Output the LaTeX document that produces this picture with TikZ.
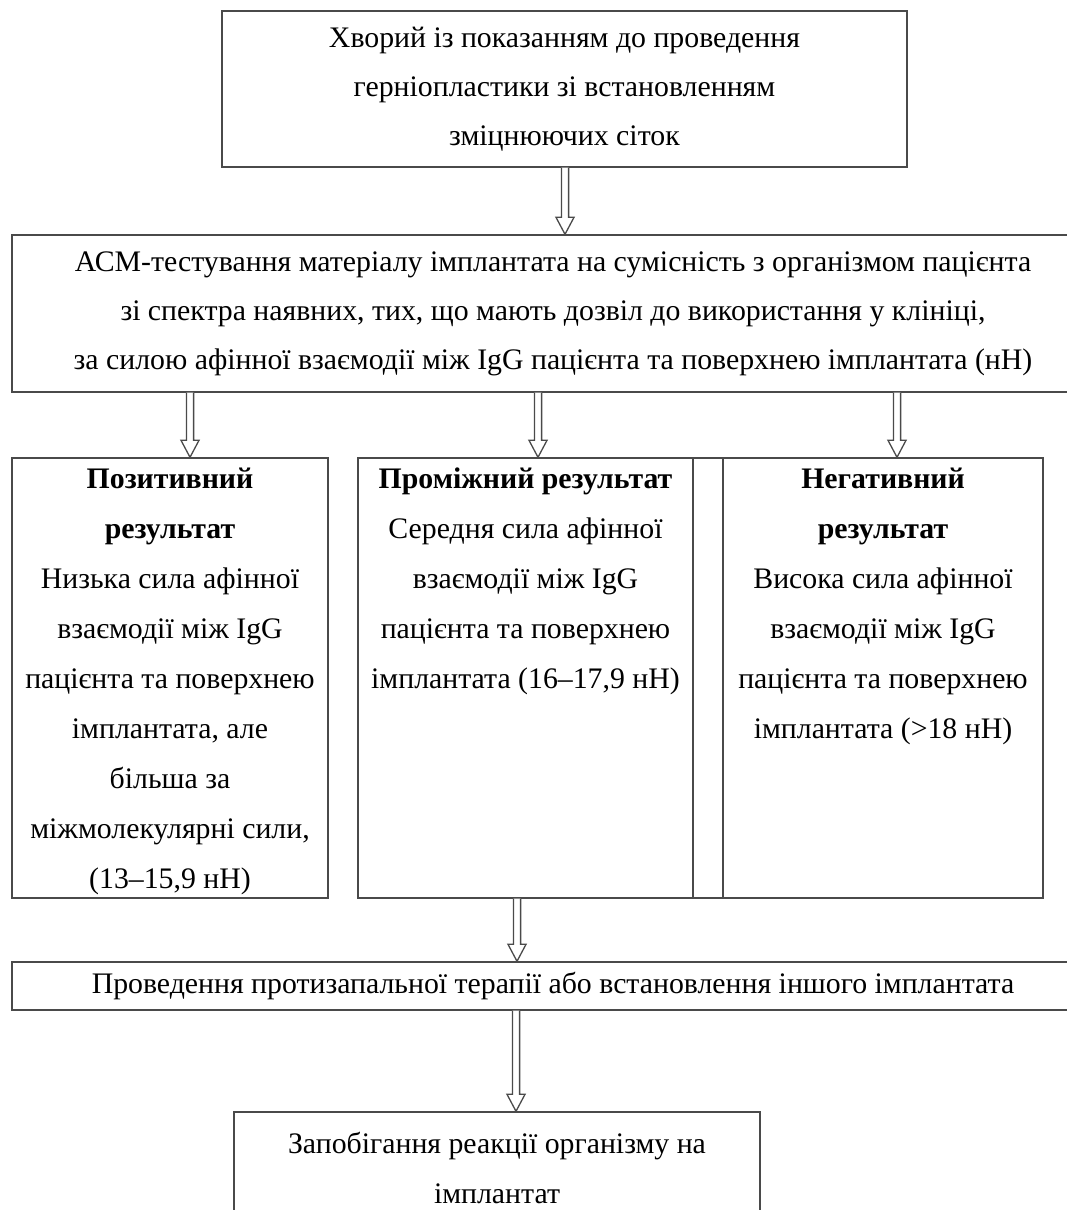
\documentclass[tikz,border=0pt]{standalone}
\usepackage{fontspec}
\setmainfont{Liberation Serif}
\usetikzlibrary{positioning,calc}
\definecolor{lineg}{HTML}{4A4A4A}
\tikzset{
  box/.style={draw=lineg,line width=0.7pt,inner sep=0pt,align=center,font=\fontsize{14.9}{24.5}\selectfont},
  cell/.style={box,minimum height=220pt},
  txt/.style={align=center,inner sep=0pt,font=\fontsize{14.9}{25}\selectfont},
  hollow/.style={draw=lineg,line width=0.65pt,fill=white,line join=miter},
}
% open block arrow from #1 down to #2
\newcommand{\hollowar}[2]{%
  \draw[hollow] let \p1=(#1), \p2=(#2) in
    (\x1-1.8pt,\y1) -- (\x1-1.8pt,\y2+8.5pt) -- (\x1-4.5pt,\y2+8.5pt) -- (\x1,\y2)
    -- (\x1+4.5pt,\y2+8.5pt) -- (\x1+1.8pt,\y2+8.5pt) -- (\x1+1.8pt,\y1);}

\begin{document}
\begin{tikzpicture}[x=0.5pt,y=-0.5pt]
  \useasboundingbox (0,0) rectangle (1066,1210);
  \node[box,minimum width=342.5pt,minimum height=78pt] (patient) at (564.5,89)
    {Хворий із показанням до проведення\\герніопластики зі встановленням\\зміцнюючих сіток};
  \node[box,minimum width=541pt,minimum height=78.5pt] (test) at (553,313.5)
    {АСМ-тестування матеріалу імплантата на сумісність з організмом пацієнта\\
     зі спектра наявних, тих, що мають дозвіл до використання у клініці,\\
     за силою афінної взаємодії між IgG пацієнта та поверхнею імплантата (нН)};
  % results
  \node[cell,minimum width=158pt] (pos) at (170,678) {};
  \node[cell,minimum width=167.5pt] (mid) at (525.5,678) {};
  \node[cell,minimum width=15pt] (gap) at (708,678) {};
  \node[cell,minimum width=160pt] (neg) at (883,678) {};
  \node[txt,below=5pt of pos.north] (postxt)
    {\textbf{Позитивний}\\\textbf{результат}\\Низька сила афінної\\взаємодії між IgG\\пацієнта та поверхнею\\
     імплантата, але\\більша за\\міжмолекулярні сили,\\(13–15,9 нН)};
  \node[txt,below=5pt of mid.north] (midtxt)
    {\textbf{Проміжний результат}\\Середня сила афінної\\взаємодії між IgG\\пацієнта та поверхнею\\імплантата (16–17,9 нН)};
  \node[txt,below=5pt of neg.north] (negtxt)
    {\textbf{Негативний}\\\textbf{результат}\\Висока сила афінної\\взаємодії між IgG\\пацієнта та поверхнею\\імплантата (>18 нН)};
  \node[box,minimum width=541pt,minimum height=24pt] (therapy) at (553,986)
    {Проведення протизапальної терапії або встановлення іншого імплантата};
  \node[box,minimum width=263pt,minimum height=56pt] (prevent) at (497,1168)
    {Запобігання реакції організму на\\[0.5pt]імплантат};
  % arrows
  \hollowar{patient.south -| 565,0}{test.north -| 565,0}
  \hollowar{test.south -| 190,0}{pos.north -| 190,0}
  \hollowar{test.south -| 538,0}{mid.north -| 538,0}
  \hollowar{test.south -| 897,0}{neg.north -| 897,0}
  \hollowar{mid.south -| 517,0}{therapy.north -| 517,0}
  \hollowar{therapy.south -| 516,0}{prevent.north -| 516,0}
\end{tikzpicture}
\end{document}
